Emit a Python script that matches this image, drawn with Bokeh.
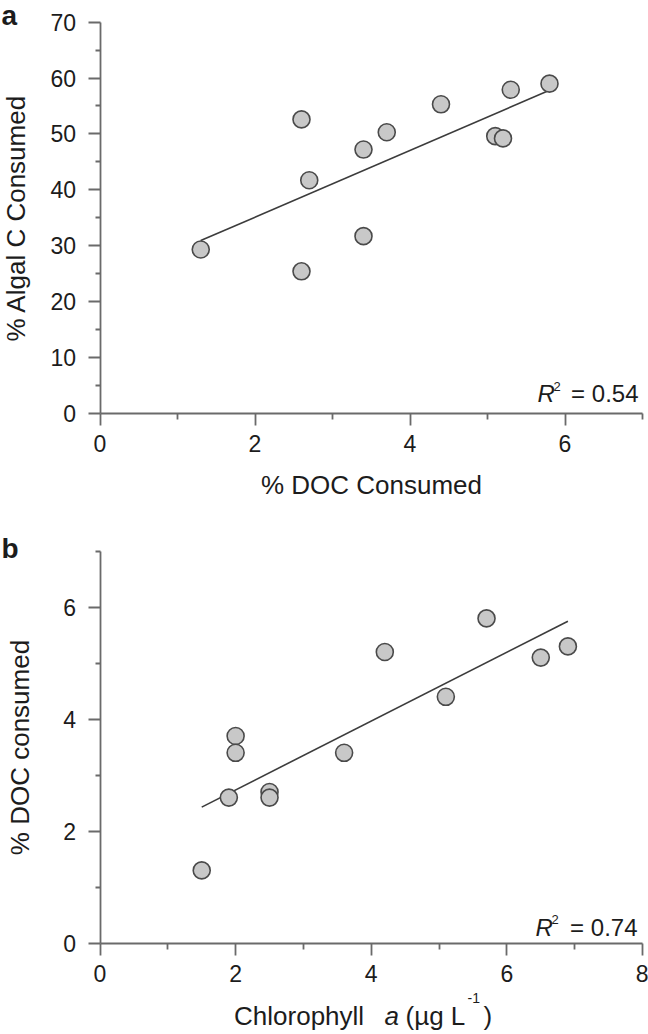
from bokeh.plotting import figure
from bokeh.layouts import column
from bokeh.models import Range1d, FixedTicker, Label, ColumnDataSource
from bokeh.embed import file_html
from bokeh.resources import INLINE

# ---------------- data ----------------
# Panel a: % DOC consumed vs % algal C consumed
doc_a = [1.3, 2.6, 2.6, 2.7, 3.4, 3.4, 3.7, 4.4, 5.1, 5.2, 5.3, 5.8]
algal_a = [29.3, 52.6, 25.4, 41.7, 47.2, 31.7, 50.3, 55.3, 49.6, 49.2, 57.9, 59.0]
fit_a_x = [1.3, 5.8]
fit_a_y = [30.9, 57.8]
r2_a = "0.54"

# Panel b: chlorophyll a vs % DOC consumed
chl_b = [1.5, 1.9, 2.0, 2.0, 2.5, 2.5, 3.6, 4.2, 5.1, 5.7, 6.5, 6.9]
doc_b = [1.3, 2.6, 3.7, 3.4, 2.7, 2.6, 3.4, 5.2, 4.4, 5.8, 5.1, 5.3]
fit_b_x = [1.5, 6.9]
fit_b_y = [2.43, 5.75]
r2_b = "0.74"

a_xlim = (0, 7)
a_ylim = (0, 70)
a_xmajor = [0, 2, 4, 6]
a_xminor = [1, 3, 5, 7]
a_ymajor = [0, 10, 20, 30, 40, 50, 60, 70]
a_yminor = [5, 15, 25, 35, 45, 55, 65]
b_xlim = (0, 8)
b_ylim = (0, 7)
b_xmajor = [0, 2, 4, 6, 8]
b_xminor = [1, 3, 5, 7]
b_ymajor = [0, 2, 4, 6]
b_yminor = [1, 3, 5, 7]

# ---------------- style ----------------
FONT = "Liberation Sans"
AXC = "#6a6a6a"
TXT = "#1c1c1c"
PT_FILL = "#c8c8c8"
PT_LINE = "#4a4a4a"
FIT = "#3c3c3c"
W = 648


def make_fig(h, xlim, ylim, px_left, px_right, px_top, px_bottom):
    # frame covers the whole canvas; axes are drawn at fixed locations
    xs = (px_right - px_left) / (xlim[1] - xlim[0])
    ys = (px_bottom - px_top) / (ylim[1] - ylim[0])
    xr = Range1d(xlim[0] - px_left / xs, xlim[1] + (W - px_right) / xs)
    yr = Range1d(ylim[0] - (h - px_bottom) / ys, ylim[1] + px_top / ys)
    p = figure(width=W, height=h, x_range=xr, y_range=yr, title=None,
               output_backend="svg", toolbar_location=None,
               min_border=0, min_border_left=0, min_border_right=0,
               min_border_top=0, min_border_bottom=0)
    p.outline_line_color = None
    p.grid.grid_line_color = None
    p.background_fill_color = "white"
    p.border_fill_color = "white"
    return p


def style_axes(p, xlim, ylim, xmaj, xmin, ymaj, ymin, xlabel, ylabel,
               y_lab_standoff, x_lab_standoff):
    xa, ya = p.xaxis[0], p.yaxis[0]
    xa.fixed_location = ylim[0]
    ya.fixed_location = xlim[0]
    xa.bounds = xlim
    ya.bounds = ylim
    xa.ticker = FixedTicker(ticks=xmaj, minor_ticks=xmin)
    ya.ticker = FixedTicker(ticks=ymaj, minor_ticks=ymin)
    for ax in (xa, ya):
        ax.axis_line_color = AXC
        ax.axis_line_width = 1.8
        ax.major_tick_line_color = AXC
        ax.major_tick_line_width = 1.8
        ax.minor_tick_line_color = AXC
        ax.minor_tick_line_width = 1.8
        ax.major_tick_out = 12
        ax.major_tick_in = 0
        ax.minor_tick_in = 0
        ax.major_label_text_font = FONT
        ax.major_label_text_font_size = "23px"
        ax.major_label_text_color = TXT
        ax.axis_label_text_font = FONT
        ax.axis_label_text_font_size = "26px"
        ax.axis_label_text_font_style = "normal"
        ax.axis_label_text_color = TXT
    xa.minor_tick_out = 6
    ya.minor_tick_out = 5
    xa.major_label_standoff = 10
    ya.major_label_standoff = 12
    xa.axis_label = xlabel
    ya.axis_label = ylabel
    ya.axis_label_standoff = y_lab_standoff
    xa.axis_label_standoff = x_lab_standoff


def txt(p, h, text, cx, cy, size, align="left", style="normal"):
    # cx, cy: wanted baseline position from the canvas top-left corner;
    # the anchor is raised by 0.35 em to land the glyph baseline on cy
    p.add_layout(Label(x=cx, y=h - cy + 0.35 * size,
                       x_units="screen", y_units="screen",
                       text=text, text_font=FONT, text_font_size=f"{size}px",
                       text_color=TXT, text_font_style=style,
                       text_align=align, text_baseline="alphabetic"))


def points(p, xs, ys, fx, fy):
    p.line(fx, fy, line_color=FIT, line_width=1.6)
    src = ColumnDataSource(dict(x=xs, y=ys))
    p.scatter("x", "y", source=src, marker="circle", size=17,
              fill_color=PT_FILL, line_color=PT_LINE, line_width=1.6)


# ---------------- panel a ----------------
H1 = 506
p1 = make_fig(H1, a_xlim, a_ylim, 99.5, 642, 21.7, 412.7)
style_axes(p1, a_xlim, a_ylim, a_xmajor, a_xminor, a_ymajor, a_yminor,
           "% DOC Consumed", "% Algal C Consumed", 17, 14)
points(p1, doc_a, algal_a, fit_a_x, fit_a_y)
txt(p1, H1, "a", 1, 25, 28, style="bold")
txt(p1, H1, "R", 537, 401.7, 24, style="italic")
txt(p1, H1, "2", 553, 391, 13)
txt(p1, H1, "= " + r2_a, 638, 401.7, 24, align="right")

# ---------------- panel b ----------------
H2 = 528
p2 = make_fig(H2, b_xlim, b_ylim, 99.5, 642, 44.7, 436.7)
style_axes(p2, b_xlim, b_ylim, b_xmajor, b_xminor, b_ymajor, b_yminor,
           None, "% DOC consumed", 26, 12)
points(p2, chl_b, doc_b, fit_b_x, fit_b_y)
txt(p2, H2, "b", 1, 52, 28, style="bold")
txt(p2, H2, "R", 535, 429, 24, style="italic")
txt(p2, H2, "2", 551, 418, 13)
txt(p2, H2, "= " + r2_b, 637, 429, 24, align="right")
# x-axis label with italic "a" and superscript
txt(p2, H2, "Chlorophyll", 363.6, 519, 26, align="right")
txt(p2, H2, "a", 384, 519, 26, style="italic")
txt(p2, H2, "(µg L", 405, 519, 26)
txt(p2, H2, "-1", 467, 496, 14)
txt(p2, H2, ")", 483, 519, 26)

layout = column(p1, p2, spacing=0)
open("out.html", "w").write(file_html(layout, INLINE))
